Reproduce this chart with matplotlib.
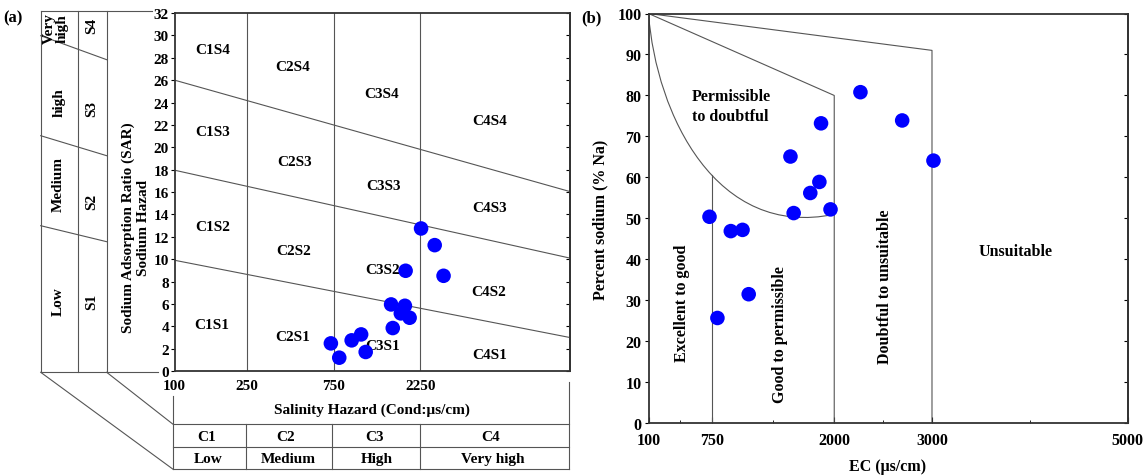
import numpy as np
import matplotlib.pyplot as plt
from matplotlib.path import Path
from matplotlib.patches import PathPatch
from matplotlib.lines import Line2D
from matplotlib.transforms import Affine2D

plt.rcParams['font.family'] = ['Liberation Serif', 'DejaVu Serif']
plt.rcParams['font.weight'] = 'bold'

# samples (same wells in both panels)
ec = [724, 805, 942, 1062, 1125, 1552, 1585, 1755, 1848, 1865, 1962, 2268, 2695, 3015]
sar = [2.47, 1.19, 2.74, 3.27, 1.70, 5.95, 3.84, 5.15, 5.83, 8.96, 4.76, 12.74, 11.25, 8.51]
na_pct = [50.4, 25.7, 46.9, 47.2, 31.5, 65.1, 51.3, 56.2, 58.9, 73.2, 52.2, 80.8, 73.9, 64.1]

# USSL diagram
c_bounds = [250, 750, 2250]
s_left = [9.9, 17.95, 26.0]
s_right = [3.0, 10.1, 16.05]
ussl_xmax = 14850
ussl_ticks = [100, 250, 750, 2250]
zone_names = ['C1S4', 'C2S4', 'C3S4', 'C4S4', 'C1S3', 'C2S3', 'C3S3', 'C4S3',
              'C1S2', 'C2S2', 'C3S2', 'C4S2', 'C1S1', 'C2S1', 'C3S1', 'C4S1']
zone_ec = [162, 447, 1377, 5425, 162, 456, 1413, 5425,
           162, 449, 1390, 5330, 160, 449, 1390, 5400]
zone_sar = [28.7, 27.2, 24.8, 22.4, 21.4, 18.7, 16.6, 14.6,
            12.9, 10.8, 9.1, 7.1, 4.2, 3.1, 2.3, 1.5]

# Wilcox diagram
wil_ticks = [100, 750, 2000, 3000, 5000]
wil_minor = [425, 1375, 2500, 4000]
wil_labels = ['Permissible\nto doubtful', 'Excellent to good', 'Good to permissible',
              'Doubtful to unsuitable', 'Unsuitable']
wil_lab_x = [544, 443, 1446, 2523, 3854]
wil_lab_y = [77.5, 29.5, 21.8, 33.6, 42.0]

fig = plt.figure(figsize=(11.48, 4.77), dpi=100)
pix = Affine2D().scale(1 / 1148, -1 / 477).translate(0, 1) + fig.transFigure
lc = '#555555'


def pline(xs, ys, lw=0.8):
    fig.add_artist(Line2D(xs, ys, transform=pix, color=lc, lw=lw))


def ptext(x, y, s, size=11, **kw):
    fig.text(x, y, s, transform=pix, ha='center', va='center', fontsize=size,
             fontweight='bold', **kw)


# ---------- panel (a)
ax1 = fig.add_axes([174.5 / 1148, 1 - 372 / 477, 395 / 1148, 358 / 477])
ax1.set_xscale('log')
ax1.set_xlim(100, ussl_xmax)
ax1.set_ylim(0, 32)
for c in c_bounds:
    ax1.plot([c, c], [0, 32], color=lc, lw=0.8)
for yl, yr in zip(s_left, s_right):
    ax1.plot([100, ussl_xmax], [yl, yr], color=lc, lw=0.8)
for n, x, y in zip(zone_names, zone_ec, zone_sar):
    ax1.text(x, y, n, ha='center', va='center', fontsize=11, fontweight='bold')
ax1.scatter(ec, sar, s=110, color='#0000ff', zorder=5, edgecolors='none')
ax1.set_xticks(ussl_ticks)
ax1.set_xticklabels([str(t) for t in ussl_ticks])
ax1.xaxis.set_minor_locator(plt.NullLocator())
ax1.set_yticks(np.arange(0, 33, 2))
ax1.tick_params(axis='x', length=0, labelsize=11, pad=6)
ax1.tick_params(axis='y', direction='out', length=3, labelsize=11, pad=1)
r1 = ax1.secondary_yaxis('right')
r1.set_yticks(np.arange(0, 33, 2))
r1.tick_params(direction='in', length=3, labelright=False)
for ax in (ax1, r1):
    for sp in ax.spines.values():
        sp.set_linewidth(1.3)
        sp.set_color('#333333')

# side table (sodium hazard)
for x in [40.7, 77.7, 106.7]:
    pline([x, x], [12.3, 373.3])
pline([40.7, 152], [12.3, 12.3])
pline([40.7, 158], [373.3, 373.3])
pline([40.7, 106.7], [36.7, 60.7])
pline([40.7, 106.7], [136.7, 156.7])
pline([40.7, 106.7], [226.7, 242.7])
pline([40.7, 172.7], [373.3, 470])
pline([106.7, 172.7], [373.3, 425])
ptext(56, 29, 'Very\nhigh', rotation=90, linespacing=1.0)
ptext(59, 103, 'high', rotation=90)
ptext(58.5, 185, 'Medium', rotation=90)
ptext(58.5, 302, 'Low', rotation=90)
for s, y in zip(['S4', 'S3', 'S2', 'S1'], [26, 109, 202, 302]):
    ptext(91.7, y, s, rotation=90)
ptext(136, 228, 'Sodium Adsorption Ratio (SAR)\nSodium Hazad', rotation=90,
      linespacing=1.15)

# bottom table (salinity hazard)
pline([172.7, 172.7], [396.7, 470])
pline([569.3, 569.3], [383, 470])
for y in [425, 448.3, 470]:
    pline([172.7, 569.3], [y, y])
for x in [245.7, 332.3, 420.3]:
    pline([x, x], [425, 470])
ptext(371.7, 410.7, 'Salinity Hazard (Cond:\u03bcs/cm)')
for s, x in zip(['C1', 'C2', 'C3', 'C4'], [207, 286, 374, 491]):
    ptext(x, 438, s)
for s, x in zip(['Low', 'Medium', 'High', 'Very high'], [208, 288, 377, 493]):
    ptext(x, 460, s)
ptext(12.5, 18.5, '(a)', size=12)

# ---------- panel (b)
ax2 = fig.add_axes([648.5 / 1148, 1 - 424.3 / 477, 479 / 1148, 409.8 / 477])
ax2.set_xlim(100, 5000)
ax2.set_ylim(0, 100)
curve = Path([(100, 100), (180, 75), (800, 45), (2000, 51)],
             [Path.MOVETO, Path.CURVE4, Path.CURVE4, Path.CURVE4])
ax2.add_patch(PathPatch(curve, fill=False, ec=lc, lw=0.8))
ax2.plot([100, 2000, 2000], [100, 80, 0], color=lc, lw=0.8)
ax2.plot([100, 3000, 3000], [100, 91, 0], color=lc, lw=0.8)
ax2.plot([750, 750], [60.5, 0], color=lc, lw=0.8)
for i, (s, x, y) in enumerate(zip(wil_labels, wil_lab_x, wil_lab_y)):
    if i == 0:
        ax2.text(x, y, s, ha='left', va='center', fontsize=11.5, fontweight='bold',
                 linespacing=1.3)
    elif i == 4:
        ax2.text(x, y, s, ha='center', va='center', fontsize=11.5, fontweight='bold')
    else:
        ax2.text(x, y, s, ha='center', va='center', fontsize=11.5, fontweight='bold',
                 rotation=90)
ax2.scatter(ec, na_pct, s=110, color='#0000ff', zorder=5, edgecolors='none')
ax2.set_xticks(wil_ticks)
ax2.set_xticks(wil_minor, minor=True)
ax2.set_yticks(np.arange(0, 101, 10))
ax2.tick_params(axis='x', which='major', direction='in', length=4, labelsize=11.5, pad=6)
ax2.tick_params(axis='x', which='minor', direction='in', length=2.5)
ax2.tick_params(axis='y', direction='out', length=3, labelsize=11.5, pad=2)
r2 = ax2.secondary_yaxis('right')
r2.set_yticks(np.arange(0, 101, 10))
r2.tick_params(direction='in', length=3, labelright=False)
for ax in (ax2, r2):
    for sp in ax.spines.values():
        sp.set_linewidth(1.3)
        sp.set_color('#333333')
ax2.set_ylabel('Percent sodium (% Na)', fontsize=11.5, fontweight='bold')
ax2.yaxis.set_label_coords((608 - 648.5) / 479, 0.5)
ptext(888, 466.7, 'EC (\u03bcs/cm)', size=11.5)
ptext(591, 18.5, '(b)', size=12)

fig.savefig('out.png', dpi=100)
